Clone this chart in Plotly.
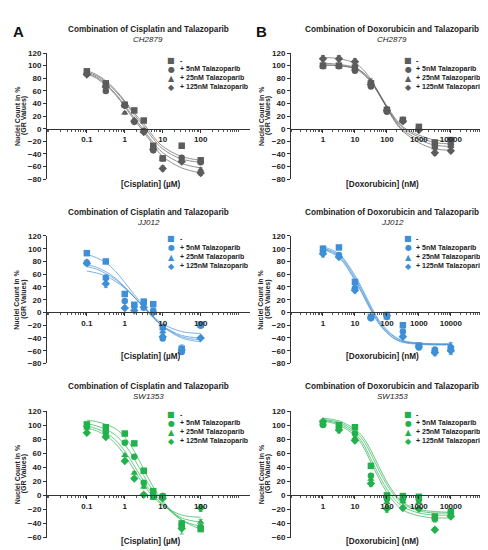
import plotly.graph_objects as go

# concentrations
CIS_X = [0.1, 0.316, 1, 1.78, 3.16, 5.62, 10, 31.6, 100]
DOX_X = [1, 3.16, 10, 31.6, 100, 316, 1000, 3162, 10000]
CIS_FIT_X = [0.1, 0.178, 0.316, 0.562, 1, 1.78, 3.16, 5.62, 10, 31.6, 100]
DOX_FIT_X = [1, 3.16, 10, 17.8, 31.6, 56.2, 100, 178, 316, 1000, 3162, 10000]

TREATMENTS = ["-", "+ 5nM Talazoparib", "+ 25nM Talazoparib", "+ 125nM Talazoparib"]
SYMBOLS = ["square", "circle", "triangle-up", "diamond"]
GLYPHS = ["■", "●", "▲", "◆"]

# CH2879 - cisplatin
ch_cis_pts = [
    [91, 72, 38, 29, 13, -27, -47, -27, -50],
    [87, 60, 37, 11, -3, -34, -47, -46, -53],
    [88, 70, 25, 14, -4, -30, -48, -51, -65],
    [86, 66, 37, 12, -5, -33, -63, -52, -70],
]
ch_cis_err = [
    [2, 2, 2, 2, 2, 3, 2, 4, 3],
    [2, 2, 2, 2, 2, 2, 2, 2, 2],
    [2, 2, 2, 2, 2, 2, 2, 3, 3],
    [2, 3, 2, 2, 2, 3, 4, 3, 4],
]
ch_cis_fit = [
    [92, 86, 76, 62, 44, 25, 8, -12, -28, -44, -50],
    [90, 84, 74, 60, 42, 22, 4, -16, -32, -48, -53],
    [88, 82, 71, 56, 37, 17, -2, -22, -38, -55, -62],
    [87, 80, 69, 54, 35, 14, -5, -26, -44, -62, -70],
]
# CH2879 - doxorubicin
ch_dox_pts = [
    [100, 100, 97, 72, 30, 14, 3, -22, -18],
    [99, 99, 92, 67, 27, 13, 0, -28, -25],
    [101, 100, 95, 75, 32, 15, -1, -30, -28],
    [111, 111, 106, 70, 29, 12, -2, -38, -35],
]
ch_dox_err = [
    [2, 2, 2, 3, 2, 2, 2, 4, 3],
    [2, 2, 2, 3, 2, 2, 2, 3, 3],
    [2, 2, 2, 4, 2, 2, 2, 3, 3],
    [5, 5, 5, 4, 2, 2, 2, 4, 3],
]
ch_dox_fit = [
    [101, 100, 96, 89, 76, 57, 36, 17, 3, -10, -18, -20],
    [101, 100, 95, 87, 74, 55, 34, 15, 1, -13, -22, -24],
    [104, 102, 97, 89, 75, 55, 33, 13, -2, -17, -26, -28],
    [113, 111, 104, 94, 78, 56, 33, 11, -4, -22, -32, -34],
]
# JJ012 - cisplatin
jj_cis_pts = [
    [93, 80, 29, 12, 17, 13, -23, -57, -19],
    [78, 55, 18, 10, 14, 3, -41, -62, -21],
    [80, 53, 8, 5, 6, -1, -30, -60, -39],
    [77, 45, 7, 3, 8, 0, -38, -59, -40],
]
jj_cis_err = [
    [2, 3, 2, 2, 3, 2, 3, 6, 3],
    [3, 3, 2, 2, 2, 2, 3, 3, 2],
    [2, 3, 2, 2, 2, 2, 3, 3, 2],
    [3, 6, 2, 2, 2, 2, 3, 3, 2],
]
jj_cis_fit = [
    [91, 86, 78, 65, 47, 28, 10, -6, -18, -30, -33],
    [75, 71, 64, 54, 40, 24, 8, -8, -21, -36, -40],
    [72, 68, 61, 52, 39, 24, 8, -8, -22, -38, -43],
    [65, 62, 57, 49, 38, 24, 9, -7, -22, -40, -46],
]
# JJ012 - doxorubicin
jj_dox_pts = [
    [100, 102, 48, -7, -4, -20, -52, -60, -57],
    [97, 90, 38, -9, -7, -30, -55, -62, -58],
    [95, 88, 40, -6, -8, -35, -52, -58, -52],
    [92, 87, 35, -8, -5, -38, -53, -63, -60],
]
jj_dox_err = [
    [4, 3, 3, 2, 2, 2, 3, 5, 5],
    [3, 3, 3, 2, 2, 2, 2, 4, 5],
    [3, 3, 3, 2, 2, 2, 2, 4, 5],
    [5, 3, 4, 2, 2, 2, 2, 5, 6],
]
jj_dox_fit = [
    [103, 92, 58, 35, 10, -12, -27, -38, -44, -48, -49, -49],
    [101, 90, 55, 32, 7, -14, -29, -39, -45, -49, -50, -50],
    [100, 88, 52, 29, 5, -16, -31, -41, -46, -49, -50, -50],
    [99, 86, 50, 27, 3, -18, -32, -42, -47, -50, -51, -51],
]
# SW1353 - cisplatin
sw_cis_pts = [
    [101, 97, 88, 74, 35, 6, -2, -40, -48],
    [98, 90, 75, 55, 18, -2, -1, -43, -45],
    [96, 86, 57, 32, 12, -4, 0, -45, -38],
    [89, 83, 49, 24, 1, 0, -4, -47, -18],
]
sw_cis_err = [
    [2, 2, 2, 2, 2, 2, 2, 4, 3],
    [2, 2, 2, 2, 2, 2, 2, 3, 3],
    [2, 2, 2, 2, 2, 2, 2, 3, 4],
    [2, 2, 2, 2, 2, 2, 2, 8, 5],
]
sw_cis_fit = [
    [107, 105, 101, 95, 83, 63, 37, 12, -8, -35, -48],
    [102, 99, 94, 86, 72, 52, 28, 6, -11, -35, -44],
    [99, 95, 89, 79, 63, 42, 20, 1, -13, -32, -38],
    [96, 92, 85, 74, 57, 36, 15, -2, -14, -28, -31],
]
# SW1353 - doxorubicin
sw_dox_pts = [
    [103, 100, 97, 42, 0, -1, -2, -30, -23],
    [100, 97, 88, 28, -5, -5, -6, -33, -25],
    [102, 95, 82, 23, -10, -9, -10, -35, -27],
    [105, 93, 78, 17, -19, -18, -19, -49, -30],
]
sw_dox_err = [
    [2, 2, 2, 2, 2, 2, 2, 3, 3],
    [2, 2, 2, 3, 2, 2, 2, 3, 3],
    [2, 2, 2, 3, 2, 2, 2, 3, 3],
    [3, 4, 3, 4, 5, 2, 2, 3, 3],
]
sw_dox_fit = [
    [110, 106, 94, 83, 64, 41, 19, 2, -10, -20, -23, -24],
    [108, 104, 91, 79, 59, 36, 15, -1, -12, -22, -25, -25],
    [107, 102, 88, 74, 52, 29, 9, -6, -16, -25, -28, -28],
    [106, 100, 85, 70, 47, 24, 4, -11, -21, -29, -32, -32],
]

GRAY = "#5c5c5c"
BLUE = "#3e8fd6"
GREEN = "#22b14c"
FONT = "Arial, Liberation Sans, sans-serif"

panels = [
    # drug, cell line, pts, err, fit, color, row, col
    ("Cisplatin", "CH2879", ch_cis_pts, ch_cis_err, ch_cis_fit, GRAY, 0, 0),
    ("Doxorubicin", "CH2879", ch_dox_pts, ch_dox_err, ch_dox_fit, GRAY, 0, 1),
    ("Cisplatin", "JJ012", jj_cis_pts, jj_cis_err, jj_cis_fit, BLUE, 1, 0),
    ("Doxorubicin", "JJ012", jj_dox_pts, jj_dox_err, jj_dox_fit, BLUE, 1, 1),
    ("Cisplatin", "SW1353", sw_cis_pts, sw_cis_err, sw_cis_fit, GREEN, 2, 0),
    ("Doxorubicin", "SW1353", sw_dox_pts, sw_dox_err, sw_dox_fit, GREEN, 2, 1),
]

W, H = 488, 550
col_dom = [[39 / W, 242 / W], [283 / W, 486 / W]]
row_px = [(41.7, 170.0), (227.7, 357.3), (405.7, 534.3)]
row_range = [[-80, 120], [-80, 120], [-60, 120]]
title_px = [(17.7, 27.7), (204.3, 214.0), (381.0, 390.7)]
xtitle_px = [175.0, 350.7, 538.5]
legend_top = [49.0, 230.7, 409.0]
legend_col = [(163, 170), (400, 406)]
xtitle_col = [143, 374]
ytitle_col = [(9, 16), (253, 260)]

fig = go.Figure()
annotations = []


def note(x, y, text, size, color="#222", family=FONT, **kw):
    d = dict(x=x / W, y=1 - y / H, xref="paper", yref="paper", showarrow=False,
             xanchor="center", yanchor="middle", text=text,
             font=dict(family=family, size=size, color=color))
    d.update(kw)
    annotations.append(d)


for i, (drug, cell, pts, err, fit, color, r, c) in enumerate(panels):
    n = "" if i == 0 else str(i + 1)
    xa, ya = "x" + n, "y" + n
    cis = drug == "Cisplatin"
    px_x = CIS_X if cis else DOX_X
    fit_x = CIS_FIT_X if cis else DOX_FIT_X

    for k in range(4):
        fig.add_trace(go.Scatter(
            x=fit_x, y=fit[k], mode="lines", xaxis=xa, yaxis=ya,
            line=dict(color=color, width=0.9, shape="spline"),
            opacity=0.75, showlegend=False, hoverinfo="skip"))
    for k in range(4):
        fig.add_trace(go.Scatter(
            x=px_x, y=pts[k], mode="markers", xaxis=xa, yaxis=ya,
            name=TREATMENTS[k], cliponaxis=False,
            error_y=dict(type="data", array=err[k], color=color,
                         thickness=0.8, width=2),
            marker=dict(symbol=SYMBOLS[k], size=6.5, color=color, line=dict(width=0)),
            showlegend=False))

    y0, y1 = row_px[r]
    ydom = [1 - y1 / H, 1 - y0 / H]
    lo, hi = row_range[r]
    xpos = ydom[0] + (0 - lo) / (hi - lo) * (ydom[1] - ydom[0])

    if cis:
        xrange = [-2.05, 3.3]
        tv = [0.1, 1, 10, 100]
        tt = ["0.1", "1", "10", "100"]
        unit = "[Cisplatin] (µM)"
    else:
        xrange = [-1.0, 5.35]
        tv = [1, 10, 100, 1000, 10000]
        tt = ["1", "10", "100", "1000", "10000"]
        unit = "[Doxorubicin] (nM)"

    fig.layout["xaxis" + n] = dict(
        domain=col_dom[c], anchor="free", position=xpos, type="log",
        range=xrange, tickvals=tv, ticktext=tt, ticks="outside", ticklen=3,
        tickwidth=1, tickcolor="#333", showline=True, linecolor="#333",
        linewidth=1, showgrid=False, zeroline=False,
        tickfont=dict(family=FONT, size=8, color="#222", weight="bold"),
        minor=dict(ticks="outside", ticklen=2, tickcolor="#555", dtick="D1",
                   showgrid=False),
    )
    fig.layout["yaxis" + n] = dict(
        domain=ydom, anchor=xa, range=[lo, hi], dtick=20, ticks="outside",
        ticklen=3, tickwidth=1, tickcolor="#333", showline=True,
        linecolor="#333", linewidth=1, showgrid=False, zeroline=False,
        tickfont=dict(family=FONT, size=8, color="#222", weight="bold"),
    )

    tcx = 140 + 244 * c
    t1, t2 = title_px[r]
    note(tcx, t1, "<b>Combination of %s and Talazoparib</b>" % drug, 8.2)
    note(tcx, t2, "<i>%s</i>" % cell, 8)
    note(xtitle_col[c], xtitle_px[r], "<b>%s</b>" % unit, 8.2)
    ymid = (y0 + y1) / 2
    for txt, xp in zip(["Nuclei Count in %", "(GR Values)"], ytitle_col[c]):
        note(xp, ymid, "<b>%s</b>" % txt, 7, textangle=-90)
    # legend, one line per treatment
    sx, tx = legend_col[c]
    for k in range(4):
        ly = legend_top[r] + 9.2 * k
        note(sx, ly, GLYPHS[k], 8, color=color, family="DejaVu Sans")
        note(tx, ly, "<b>%s</b>" % TREATMENTS[k], 7, xanchor="left")

for letter, xp in [("A", 10), ("B", 254)]:
    note(xp, 20, "<b>%s</b>" % letter, 15, color="#111")

fig.update_layout(
    width=W, height=H, margin=dict(l=0, r=0, t=0, b=0),
    paper_bgcolor="white", plot_bgcolor="white",
    showlegend=False, annotations=annotations,
)

fig.write_html("out.html")
